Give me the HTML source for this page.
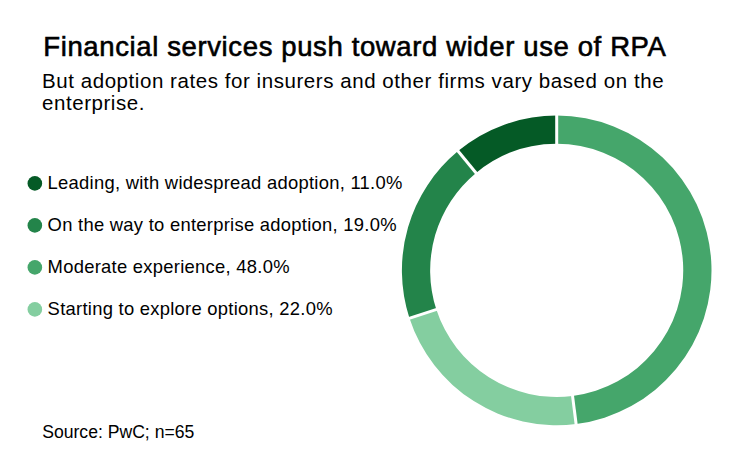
<!DOCTYPE html>
<html>
<head>
<meta charset="utf-8">
<style>
html,body{margin:0;padding:0;background:#fff;}
body{width:740px;height:463px;position:relative;overflow:hidden;font-family:"Liberation Sans",Arial,sans-serif;color:#000;}
.t{position:absolute;white-space:nowrap;line-height:1;transform-origin:0 0;}
#title{left:43.3px;top:33.4px;font-size:27.5px;font-weight:normal;-webkit-text-stroke:0.6px #000;letter-spacing:0.62px;}
#sub1{left:42.0px;top:70.5px;font-size:20.5px;letter-spacing:0.56px;}
#sub2{left:42.0px;top:93.2px;font-size:20.5px;letter-spacing:0.56px;}
.lg{left:47.6px;font-size:18.4px;letter-spacing:0.27px;}
#src{left:42.2px;top:424.4px;font-size:17.6px;}
svg{position:absolute;left:0;top:0;}
</style>
</head>
<body>
<div class="t" id="title">Financial services push toward wider use of RPA</div>
<div class="t" id="sub1">But adoption rates for insurers and other firms vary based on the</div>
<div class="t" id="sub2">enterprise.</div>

<div class="t lg" id="l1" style="top:174.4px">Leading, with widespread adoption, 11.0%</div>
<div class="t lg" id="l2" style="top:216.4px">On the way to enterprise adoption, 19.0%</div>
<div class="t lg" id="l3" style="top:258.3px">Moderate experience, 48.0%</div>
<div class="t lg" id="l4" style="top:300.3px">Starting to explore options, 22.0%</div>

<div class="t" id="src">Source: PwC; n=65</div>

<svg width="740" height="463" viewBox="0 0 740 463">
  <circle cx="34.85" cy="183.4" r="7.3" fill="#055a26"/>
  <circle cx="34.85" cy="225.4" r="7.3" fill="#23844a"/>
  <circle cx="34.85" cy="267.4" r="7.3" fill="#45a66b"/>
  <circle cx="34.85" cy="309.4" r="7.3" fill="#84cea0"/>
  <g id="donut">
  <path d="M556.70,115.60A154.8,154.8 0 0 1 576.10,423.98L572.56,395.95A126.55,126.55 0 0 0 556.70,143.85Z" fill="#45a66b"/>
  <path d="M576.10,423.98A154.8,154.8 0 0 1 409.48,318.24L436.34,309.51A126.55,126.55 0 0 0 572.56,395.95Z" fill="#84cea0"/>
  <path d="M409.48,318.24A154.8,154.8 0 0 1 458.03,151.12L476.03,172.89A126.55,126.55 0 0 0 436.34,309.51Z" fill="#23844a"/>
  <path d="M458.03,151.12A154.8,154.8 0 0 1 556.70,115.60L556.70,143.85A126.55,126.55 0 0 0 476.03,172.89Z" fill="#055a26"/>
  <line x1="556.70" y1="145.85" x2="556.70" y2="113.60" stroke="#fff" stroke-width="3"/>
  <line x1="572.31" y1="393.97" x2="576.35" y2="425.96" stroke="#fff" stroke-width="3"/>
  <line x1="438.25" y1="308.89" x2="407.57" y2="318.85" stroke="#fff" stroke-width="3"/>
  <line x1="477.31" y1="174.43" x2="456.75" y2="149.58" stroke="#fff" stroke-width="3"/>

  </g>
</svg>
</body>
</html>
